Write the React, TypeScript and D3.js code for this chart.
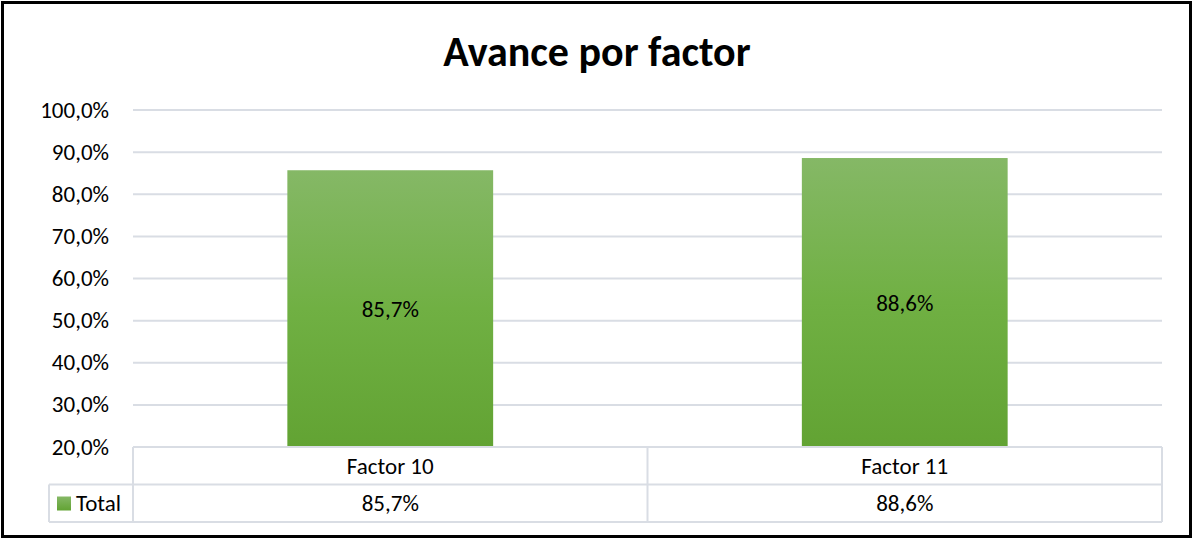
import React from "react";
import * as d3 from "d3";

const categories = ["Factor 10", "Factor 11"];
const values = [85.7, 88.6];
const seriesName = "Total";
const yTicks = [20, 30, 40, 50, 60, 70, 80, 90, 100];
const title = "Avance por factor";

const W = 1193;
const H = 539;
const FONT = "Carlito, 'Open Sans', 'Noto Sans', sans-serif";
const FS = 23;

const fmtAxis = (v: number) => v.toFixed(1).replace(".", ",") + "%";
const fmtLabel = (v: number) => v.toFixed(1).replace(".", ",") + "%";

export default function App() {
  const plotL = 133, plotR = 1162, plotT = 110, plotB = 447;
  const x = d3.scaleBand<string>().domain(categories).range([plotL, plotR]).paddingInner(0.6).paddingOuter(0.3);
  const xCat = d3.scaleBand<string>().domain(categories).range([plotL, plotR]);
  const y = d3.scaleLinear().domain([20, 100]).range([plotB, plotT]);
  const rowH = 37.5;
  const legendL = 49;
  const grid = "#d9dde4";

  return (
    <div style={{ position: "absolute", left: 0, top: 0 }}>
      <svg width={W} height={H} style={{ display: "block" }} fontFamily={FONT}>
        <defs>
          <linearGradient id="barGrad" x1="0" y1="0" x2="0" y2="1">
            <stop offset="0%" stopColor="#85b866" />
            <stop offset="50%" stopColor="#70b043" />
            <stop offset="100%" stopColor="#62a333" />
          </linearGradient>
          <linearGradient id="keyGrad" x1="0" y1="0" x2="0" y2="1">
            <stop offset="0%" stopColor="#85b866" />
            <stop offset="100%" stopColor="#62a333" />
          </linearGradient>
        </defs>
        <rect x={0} y={0} width={W} height={H} fill="#fff" />
        <rect x={2.5} y={2.5} width={W - 5} height={H - 5} fill="none" stroke="#000" strokeWidth={3} />
        <text x={597} y={66} textAnchor="middle" fontSize={42} fontWeight="bold" fill="#000">{title}</text>
        {yTicks.map((t) => (
          <g key={t}>
            {t > 20 && <line x1={plotL} x2={plotR} y1={y(t)} y2={y(t)} stroke={grid} strokeWidth={2} />}
            <text x={109} y={y(t) + 7.5} textAnchor="end" fontSize={FS} fill="#000">{fmtAxis(t)}</text>
          </g>
        ))}
        {categories.map((c, i) => (
          <g key={c}>
            <rect x={x(c)} y={y(values[i])} width={x.bandwidth()} height={plotB - y(values[i])} fill="url(#barGrad)" />
            <text x={x(c)! + x.bandwidth() / 2} y={(y(values[i]) + plotB) / 2 + 8} textAnchor="middle" fontSize={FS} fill="#000">{fmtLabel(values[i])}</text>
          </g>
        ))}
        <g stroke={grid} strokeWidth={2} fill="none">
          <line x1={plotL} x2={plotR} y1={plotB} y2={plotB} />
          <line x1={legendL} x2={plotR} y1={plotB + rowH} y2={plotB + rowH} />
          <line x1={legendL} x2={plotR} y1={plotB + 2 * rowH} y2={plotB + 2 * rowH} />
          <line x1={legendL} x2={legendL} y1={plotB + rowH} y2={plotB + 2 * rowH} />
          {[...categories.map((c) => xCat(c)!), plotR].map((xx, i) => (
            <line key={i} x1={xx} x2={xx} y1={plotB} y2={plotB + 2 * rowH} />
          ))}
        </g>
        {categories.map((c, i) => (
          <g key={c + "t"}>
            <text x={xCat(c)! + xCat.bandwidth() / 2} y={plotB + rowH / 2 + 8} textAnchor="middle" fontSize={FS} fill="#000">{c}</text>
            <text x={xCat(c)! + xCat.bandwidth() / 2} y={plotB + rowH * 1.5 + 8} textAnchor="middle" fontSize={FS} fill="#000">{fmtLabel(values[i])}</text>
          </g>
        ))}
        <rect x={57} y={plotB + rowH + 12} width={14} height={14} fill="url(#keyGrad)" />
        <text x={76} y={plotB + rowH * 1.5 + 8} fontSize={FS} fill="#000">{seriesName}</text>
      </svg>
    </div>
  );
}
